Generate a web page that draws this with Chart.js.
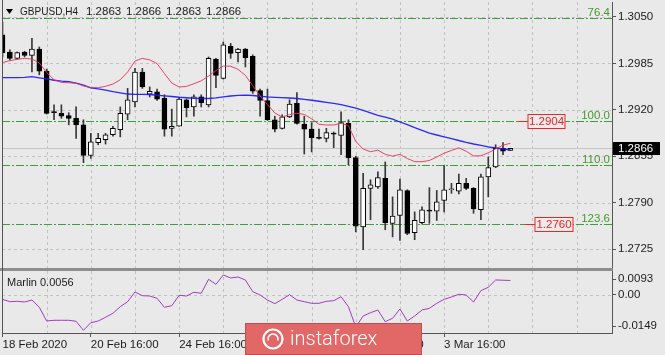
<!DOCTYPE html>
<html><head><meta charset="utf-8">
<script src="https://cdn.jsdelivr.net/npm/chart.js@4.4.1/dist/chart.umd.min.js"></script>
<style>
html,body{margin:0;padding:0;background:#e9e9e9;overflow:hidden}
#wrap{position:relative;width:665px;height:355px;background:#e9e9e9}
canvas{position:absolute;left:0}
#c1{top:0}
#c2{top:268px}
</style></head><body>
<div id="wrap"><canvas id="c1" width="665" height="268"></canvas><canvas id="c2" width="665" height="87"></canvas></div>
<script>
// ---------- data ----------
const symbolTitle = 'GBPUSD,H4';
const opens  = [1.3025,1.3001,1.2992,1.3001,1.2996,1.3005,1.2974,1.2917,1.2915,1.2912,1.2908,1.2899,1.2856,1.2874,1.2878,1.2885,1.2892,1.2914,1.2931,1.2973,1.2942,1.2945,1.2936,1.2894,1.2897,1.2934,1.2924,1.2938,1.2927,1.2991,1.2964,1.3009,1.3000,1.3005,1.2995,1.2947,1.2933,1.2906,1.2894,1.2910,1.2929,1.2900,1.2893,1.2881,1.2880,1.2887,1.2884,1.2901,1.2853,1.2756,1.2810,1.2812,1.2824,1.2761,1.2772,1.2807,1.2748,1.2762,1.2779,1.2778,1.2793,1.2808,1.2806,1.2817,1.2810,1.2780,1.2826,1.2840,1.2866,1.2863];
const highs  = [1.3043,1.3004,1.3001,1.3002,1.3020,1.3008,1.2977,1.2927,1.2927,1.2916,1.2924,1.2906,1.2887,1.2887,1.2887,1.2897,1.2924,1.2950,1.2978,1.2978,1.2952,1.2949,1.2941,1.2921,1.2937,1.2935,1.2941,1.2941,1.2994,1.2992,1.3015,1.3013,1.3006,1.3006,1.2997,1.2949,1.2949,1.2911,1.2913,1.2934,1.2944,1.2911,1.2902,1.2893,1.2894,1.2889,1.2917,1.2906,1.2855,1.2831,1.2822,1.2833,1.2847,1.2798,1.2823,1.2808,1.2777,1.2784,1.2811,1.2807,1.2842,1.2817,1.2830,1.2824,1.2811,1.2830,1.2854,1.2871,1.2874,1.2866];
const lows   = [1.2994,1.2990,1.2991,1.2994,1.2973,1.2969,1.2914,1.2906,1.2908,1.2899,1.2880,1.2846,1.2852,1.2871,1.2872,1.2883,1.2882,1.2906,1.2924,1.2950,1.2938,1.2933,1.2883,1.2883,1.2897,1.2910,1.2911,1.2924,1.2924,1.2951,1.2963,1.2992,1.2987,1.2980,1.2943,1.2911,1.2905,1.2889,1.2893,1.2909,1.2900,1.2858,1.2861,1.2879,1.2875,1.2867,1.2857,1.2843,1.2749,1.2724,1.2766,1.2810,1.2752,1.2742,1.2737,1.2745,1.2738,1.2760,1.2761,1.2765,1.2777,1.2803,1.2802,1.2808,1.2775,1.2766,1.2798,1.2839,1.2857,1.2863];
const closes = [1.3000,1.2992,1.3000,1.2996,1.3005,1.2974,1.2915,1.2916,1.2911,1.2908,1.2899,1.2856,1.2875,1.2880,1.2885,1.2894,1.2915,1.2934,1.2973,1.2952,1.2946,1.2935,1.2893,1.2897,1.2935,1.2923,1.2938,1.2930,1.2992,1.2968,1.3011,1.2999,1.3005,1.2993,1.2946,1.2933,1.2906,1.2893,1.2910,1.2928,1.2901,1.2893,1.2881,1.2880,1.2888,1.2886,1.2902,1.2853,1.2757,1.2810,1.2815,1.2825,1.2762,1.2771,1.2808,1.2747,1.2765,1.2780,1.2778,1.2791,1.2808,1.2809,1.2817,1.2810,1.2781,1.2826,1.2839,1.2866,1.2862,1.2866];
const maFast = [1.29862,1.29888,1.29907,1.29920,1.29911,1.29857,1.29722,1.29621,1.29584,1.29579,1.29572,1.29533,1.29512,1.29509,1.29529,1.29560,1.29621,1.29729,1.29883,1.29921,1.29899,1.29848,1.29708,1.29575,1.29519,1.29528,1.29565,1.29606,1.29673,1.29749,1.29813,1.29811,1.29767,1.29682,1.29537,1.29393,1.29274,1.29155,1.29099,1.29133,1.29151,1.29135,1.29074,1.28997,1.28987,1.28987,1.29012,1.28978,1.28757,1.28651,1.28613,1.28635,1.28576,1.28551,1.28576,1.28518,1.28474,1.28473,1.28490,1.28539,1.28592,1.28631,1.28667,1.28620,1.28554,1.28556,1.28597,1.28652,1.28704,1.28731];
const maSlow = [1.29650,1.29650,1.29650,1.29655,1.29664,1.29648,1.29633,1.29614,1.29602,1.29595,1.29574,1.29547,1.29508,1.29494,1.29476,1.29455,1.29437,1.29421,1.29417,1.29417,1.29414,1.29404,1.29396,1.29386,1.29376,1.29369,1.29362,1.29358,1.29358,1.29368,1.29381,1.29393,1.29402,1.29406,1.29400,1.29390,1.29381,1.29375,1.29371,1.29365,1.29358,1.29346,1.29334,1.29320,1.29305,1.29289,1.29273,1.29249,1.29222,1.29193,1.29158,1.29123,1.29096,1.29068,1.29029,1.28992,1.28950,1.28913,1.28873,1.28847,1.28820,1.28795,1.28770,1.28743,1.28721,1.28702,1.28681,1.28665,1.28653,1.28637];
const marlin = [-0.00175,-0.00268,-0.00253,-0.00280,-0.00202,-0.00487,-0.01022,-0.00994,-0.00994,-0.00994,-0.01033,-0.01385,-0.01088,-0.01022,-0.00877,-0.00721,-0.00463,-0.00268,0.00110,-0.00034,-0.00046,-0.00136,-0.00487,-0.00424,-0.00018,-0.00046,0.00099,0.00060,0.00606,0.00411,0.00774,0.00657,0.00696,0.00579,0.00122,-0.00007,-0.00202,-0.00346,-0.00175,0.00005,-0.00202,-0.00268,-0.00331,-0.00331,-0.00253,-0.00229,-0.00073,-0.00463,-0.01256,-0.00826,-0.00698,-0.00592,-0.01049,-0.00916,-0.00553,-0.01022,-0.00826,-0.00592,-0.00526,-0.00331,-0.00175,-0.00085,0.00021,-0.00007,-0.00280,0.00161,0.00294,0.00580,0.00570,0.00560];
const priceTicks = [1.3050,1.2985,1.2920,1.2855,1.2790,1.2725];
const fibLevels = [1.3048,1.2904,1.2843,1.2760];
const fibLabels = ['76.4','100.0','110.0','123.6'];
const priceTags = [1.2904,1.2760];
const lastPrice = 1.2866;
const timeLabelIdx = [0,12,24,36,48,60];
const timeLabels = ['18 Feb 2020','20 Feb 16:00','24 Feb 16:00','26 Feb 16:00','28 Feb 16:00','3 Mar 16:00'];
const marlinMax = 0.0093, marlinMin = -0.0149;
const marlinTickLabels = ['0.0093','0.00','-0.0149'];

// ---------- style ----------
const FONT = '"Liberation Sans", Arial, sans-serif';
const gridColor = '#c2c2c2';
const axisColor = '#555555';
const textColor = '#1c1c1c';
const xMin = -0.068, xMax = 82.81;
const N = closes.length;
const idx = [...Array(N).keys()];
const gridIdx = []; for (let g = 6; g < xMax; g += 6) gridIdx.push(g);

Chart.defaults.font.family = FONT;
Chart.defaults.font.size = 11.5;
Chart.defaults.color = textColor;

function hline(ctx, x1, x2, y) { ctx.beginPath(); ctx.moveTo(x1, y); ctx.lineTo(x2, y); ctx.stroke(); }
function vline(ctx, x, y1, y2) { ctx.beginPath(); ctx.moveTo(x, y1); ctx.lineTo(x, y2); ctx.stroke(); }
const px = v => Math.round(v) + 0.5;
function fixV(w) { return s => { s.width = w; s.paddingTop = 0; s.paddingBottom = 0; s.paddingLeft = 0; s.paddingRight = 0; }; }
function fixH(h) { return s => { s.height = h; s.paddingTop = 0; s.paddingBottom = 0; s.paddingLeft = 0; s.paddingRight = 0; }; }

const mainDecor = {
  id: 'mainDecor',
  beforeDatasetsDraw(chart) {
    const {ctx, chartArea: ca, scales: {x, y}} = chart;
    ctx.save();
    ctx.lineWidth = 1;
    ctx.strokeStyle = gridColor; ctx.setLineDash([3, 3]);
    priceTicks.forEach(t => hline(ctx, ca.left, ca.right, px(y.getPixelForValue(t))));
    gridIdx.forEach(g => vline(ctx, px(x.getPixelForValue(g)), ca.top, ca.bottom));
    ctx.setLineDash([]); ctx.strokeStyle = '#c4c4c4';
    hline(ctx, ca.left, ca.right, px(y.getPixelForValue(lastPrice)));
    ctx.strokeStyle = '#3e9e3e'; ctx.setLineDash([8, 2, 2, 2]);
    fibLevels.forEach(f => hline(ctx, ca.left, ca.right, px(y.getPixelForValue(f))));
    ctx.restore();
  },
  afterDraw(chart) {
    const {ctx, chartArea: ca, scales: {y}} = chart;
    ctx.save();
    ctx.strokeStyle = axisColor; ctx.lineWidth = 1;
    vline(ctx, 2.5, 0, ca.bottom);
    // title
    ctx.fillStyle = '#000';
    ctx.beginPath(); ctx.moveTo(6, 9); ctx.lineTo(13, 9); ctx.lineTo(9.5, 14); ctx.closePath(); ctx.fill();
    ctx.fillStyle = textColor; ctx.font = '11.5px ' + FONT; ctx.textBaseline = 'middle'; ctx.textAlign = 'left';
    ctx.fillText(symbolTitle, 20, 12, 58);
    [opens[N-1], highs[N-1], lows[N-1], closes[N-1]].forEach((v, k) => ctx.fillText(v.toFixed(4), 86 + 40 * k, 12));
    // fib labels
    ctx.fillStyle = '#459a2c'; ctx.textAlign = 'right'; ctx.textBaseline = 'alphabetic';
    fibLevels.forEach((f, k) => ctx.fillText(fibLabels[k], ca.right - 2, Math.round(y.getPixelForValue(f)) - 2));
    // price tags
    const tagGeo = [{from: 94, left: 84, w: 37}, {from: 87, left: 77, w: 38}];
    priceTags.forEach((p, k) => {
      const yy = Math.round(y.getPixelForValue(p)) + 0.5;
      const g = tagGeo[k];
      ctx.strokeStyle = '#f02424'; ctx.lineWidth = 1; ctx.setLineDash([]);
      hline(ctx, ca.right - g.from, ca.right - g.left, yy);
      ctx.fillStyle = '#ececec';
      ctx.fillRect(ca.right - g.left, yy - 7, g.w, 14);
      ctx.strokeRect(ca.right - g.left, yy - 7, g.w, 14);
      ctx.fillStyle = '#f02020'; ctx.textAlign = 'center'; ctx.textBaseline = 'middle';
      ctx.fillText(p.toFixed(4), ca.right - g.left + g.w / 2, yy + 0.5);
    });
    // last price box
    const ly = y.getPixelForValue(lastPrice);
    ctx.fillStyle = '#000';
    ctx.fillRect(ca.right + 1, Math.round(ly) - 6, 47, 13);
    ctx.fillStyle = '#fff'; ctx.textAlign = 'left'; ctx.textBaseline = 'middle';
    ctx.fillText(lastPrice.toFixed(4), ca.right + 6, Math.round(ly) + 0.5);
    ctx.restore();
  }
};

const bodyColors = idx.map(i => closes[i] >= opens[i] ? '#ffffff' : '#000000');

new Chart(document.getElementById('c1'), {
  type: 'bar',
  data: {
    datasets: [
      { type: 'bar', label: 'wick', data: idx.map(i => ({x: i, y: [lows[i], highs[i]]})),
        backgroundColor: '#383838', borderWidth: 0, barThickness: 1, grouped: false, order: 4 },
      { type: 'bar', label: 'body', data: idx.map(i => ({x: i, y: [opens[i], closes[i]]})),
        backgroundColor: bodyColors, borderColor: '#000', borderWidth: 1, borderSkipped: false,
        barThickness: 5, grouped: false, minBarLength: 1, order: 3 },
      { type: 'line', label: 'slow', data: idx.map(i => ({x: i, y: maSlow[i]})),
        borderColor: 'rgba(25,25,250,0.92)', borderWidth: 1.3, pointRadius: 0, tension: 0, order: 2 },
      { type: 'line', label: 'fast', data: idx.map(i => ({x: i, y: maFast[i]})),
        borderColor: 'rgba(232,50,88,0.9)', borderWidth: 1, pointRadius: 0, tension: 0, order: 1 }
    ]
  },
  options: {
    responsive: false, animation: false, devicePixelRatio: 1,
    layout: { padding: { left: 2, top: 2, right: 0, bottom: 0 } },
    plugins: { legend: { display: false }, tooltip: { enabled: false } },
    scales: {
      x: { type: 'linear', min: xMin, max: xMax, display: false, offset: false },
      y: { type: 'linear', position: 'right', min: 1.26984, max: 1.30710, beginAtZero: false,
        afterFit: fixV(53),
        afterBuildTicks: s => { s.ticks = priceTicks.map(v => ({value: v})); },
        ticks: { callback: v => Number(v).toFixed(4), padding: 2, color: textColor, autoSkip: false },
        grid: { drawOnChartArea: false, tickLength: 4, color: axisColor },
        border: { color: axisColor } }
    }
  },
  plugins: [mainDecor]
});

const subDecor = {
  id: 'subDecor',
  beforeDatasetsDraw(chart) {
    const {ctx, chartArea: ca, scales: {x, y}} = chart;
    ctx.save();
    ctx.lineWidth = 1; ctx.strokeStyle = gridColor; ctx.setLineDash([3, 3]);
    gridIdx.forEach(g => vline(ctx, px(x.getPixelForValue(g)), ca.top, ca.bottom));
    hline(ctx, ca.left, ca.right, px(y.getPixelForValue(0)));
    ctx.restore();
  },
  afterDraw(chart) {
    const {ctx, chartArea: ca} = chart;
    ctx.save();
    ctx.fillStyle = '#8e8e8e'; ctx.fillRect(0, 0, ca.right + 1, 3);
    ctx.strokeStyle = axisColor; ctx.lineWidth = 1;
    vline(ctx, 2.5, 0, ca.bottom);
    ctx.fillStyle = textColor; ctx.font = '11px ' + FONT; ctx.textBaseline = 'middle'; ctx.textAlign = 'left';
    ctx.fillText('Marlin ' + marlin[N - 1].toFixed(4), 7, 15);
    // watermark
    ctx.fillStyle = '#e26767';
    ctx.fillRect(245, 55, 177, 32);
    ctx.strokeStyle = 'rgba(140,50,50,0.45)'; ctx.strokeRect(245.5, 55.5, 176, 31);
    ctx.strokeStyle = '#ffffff'; ctx.lineWidth = 2.2;
    ctx.beginPath(); ctx.arc(273, 71, 9.5, 0, Math.PI * 2); ctx.stroke();
    ctx.lineWidth = 1.6;
    ctx.beginPath(); ctx.arc(273, 71, 5, Math.PI * 0.9, Math.PI * 2.1); ctx.stroke();
    ctx.fillStyle = '#ffffff'; ctx.font = '300 20px Roboto'; ctx.textBaseline = 'alphabetic';
    ctx.fillText('instaforex', 290, 77);
    ctx.restore();
  }
};

new Chart(document.getElementById('c2'), {
  type: 'line',
  data: { datasets: [{ label: 'Marlin', data: idx.map(i => ({x: i, y: marlin[i]})),
    borderColor: '#a03cbe', borderWidth: 1, pointRadius: 0, tension: 0 }] },
  options: {
    responsive: false, animation: false, devicePixelRatio: 1,
    layout: { padding: { left: 2, top: 3, right: 0, bottom: 0 } },
    plugins: { legend: { display: false }, tooltip: { enabled: false } },
    scales: {
      x: { type: 'linear', position: 'bottom', min: xMin, max: xMax, offset: false,
        afterFit: fixH(22),
        afterBuildTicks: s => { s.ticks = timeLabelIdx.map(v => ({value: v})); },
        ticks: { callback: v => timeLabels[timeLabelIdx.indexOf(v)], align: 'start', autoSkip: false,
          maxRotation: 0, minRotation: 0, padding: 1, color: textColor },
        grid: { drawOnChartArea: false, tickLength: 4, color: axisColor },
        border: { color: axisColor } },
      y: { type: 'linear', position: 'right', min: marlinMin, max: marlinMax,
        afterFit: fixV(53),
        afterBuildTicks: s => {
          const per = (marlinMax - marlinMin) / 62;
          s.ticks = [{value: marlinMax - 8 * per}, {value: 0}, {value: marlinMin + 7 * per}];
        },
        ticks: { callback: (v, i) => marlinTickLabels[i], padding: 2, color: textColor, autoSkip: false },
        grid: { drawOnChartArea: false, tickLength: 4, color: axisColor },
        border: { color: axisColor } }
    }
  },
  plugins: [subDecor]
});
</script>
</body></html>
